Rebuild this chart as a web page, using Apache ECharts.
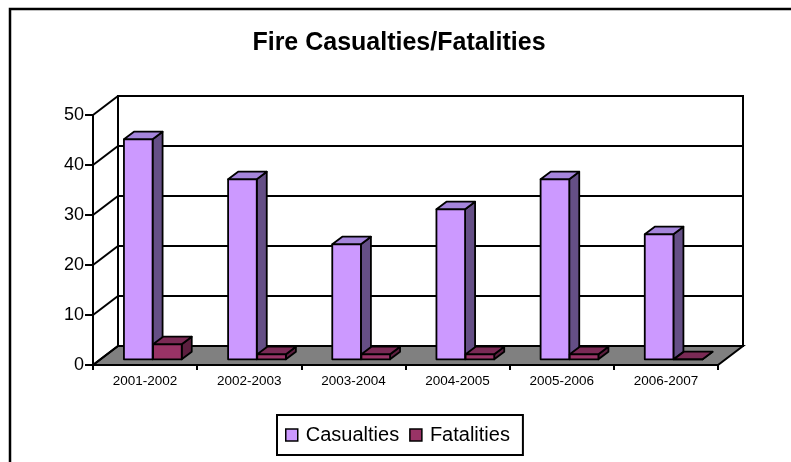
<!DOCTYPE html>
<html><head><meta charset="utf-8">
<script src="https://cdn.jsdelivr.net/npm/echarts@6/dist/echarts.min.js"></script>
<style>html,body{margin:0;padding:0;background:#fff}#c{width:791px;height:462px}</style>
</head><body><div id="c"></div>
<script>
const categories = ['2001-2002','2002-2003','2003-2004','2004-2005','2005-2006','2006-2007'];
const casualties = [44, 36, 23, 30, 36, 25];
const fatalities = [3, 1, 1, 1, 1, 0];
const yTicks = [0, 10, 20, 30, 40, 50];

const DX = 25, DY = -19;
const D0 = 0.3, D1 = 0.7;
const FONT = "'Liberation Sans', Arial, sans-serif";

function barRender(side, colors) {
  return function (params, api) {
    const idx = api.value(0), v = api.value(1);
    const base = api.coord([idx, 0]);
    const top = api.coord([idx, v]);
    const bw = api.size([1, 0])[0];
    const w = bw * 0.275;
    let xl = side === 0 ? base[0] - w : base[0] + 0.5;
    let xr = xl + w;
    const ox = DX * D0, oy = DY * D0;
    const ddx = DX * (D1 - D0), ddy = DY * (D1 - D0);
    const yb = base[1] + oy, yt = top[1] + oy;
    xl += ox; xr += ox;
    const front = [[xl, yb], [xr, yb], [xr, yt], [xl, yt]];
    const sideF = [[xr, yb], [xr + ddx, yb + ddy], [xr + ddx, yt + ddy], [xr, yt]];
    const topF = [[xl, yt], [xr, yt], [xr + ddx, yt + ddy], [xl + ddx, yt + ddy]];
    const st = c => ({ fill: c, stroke: '#000', lineWidth: 1.8, lineJoin: 'round' });
    return { type: 'group', children: [
      { type: 'polygon', shape: { points: sideF }, style: st(colors.side) },
      { type: 'polygon', shape: { points: topF }, style: st(colors.top) },
      { type: 'polygon', shape: { points: front }, style: st(colors.front) }
    ] };
  };
}

function wallRender(params, api) {
  const v = api.value(1);
  const cs = params.coordSys;
  const y = api.coord([0, v])[1];
  const xL = cs.x, xR = cs.x + cs.width;
  const children = [];
  if (params.dataIndex === 0) {
    const yT = api.coord([0, yTicks[yTicks.length - 1]])[1];
    children.push({ type: 'polygon', shape: { points: [[xL + DX, yT + DY], [xR + DX, yT + DY], [xR + DX, y + DY], [xL + DX, y + DY]] },
      style: { fill: '#fff', stroke: '#000', lineWidth: 2 } });
    children.push({ type: 'polygon', shape: { points: [[xL, y], [xR, y], [xR + DX, y + DY], [xL + DX, y + DY]] },
      style: { fill: '#808080', stroke: '#000', lineWidth: 2 } });
  } else {
    children.push({ type: 'line', shape: { x1: xL + DX, y1: y + DY, x2: xR + DX, y2: y + DY }, style: { stroke: '#000', lineWidth: 2 } });
  }
  children.push({ type: 'line', shape: { x1: xL, y1: y, x2: xL + DX, y2: y + DY }, style: { stroke: '#000', lineWidth: 2 } });
  return { type: 'group', children };
}

const chart = echarts.init(document.getElementById('c'), null, { renderer: 'canvas' });
chart.setOption({
  animation: false,
  backgroundColor: '#fff',
  graphic: [
    { type: 'rect', shape: { x: 10, y: 9, width: 900, height: 600 }, style: { fill: 'none', stroke: '#000', lineWidth: 2.5 }, z: 0 },
    { type: 'text', x: 399, y: 43, style: { text: 'Fire Casualties/Fatalities', font: "bold 25px " + FONT, fill: '#000',
      align: 'center', verticalAlign: 'middle', textAlign: 'center', textVerticalAlign: 'middle' } }
  ],
  grid: { left: 93, right: 73, top: 115, bottom: 97, containLabel: false },
  xAxis: {
    type: 'category', data: categories, boundaryGap: true,
    axisLine: { show: true, lineStyle: { color: '#000', width: 2 } },
    axisTick: { show: true, interval: 0, length: 5, alignWithLabel: false, lineStyle: { color: '#000', width: 2 } },
    axisLabel: { interval: 0, margin: 9, color: '#000', fontSize: 13.5, fontFamily: FONT },
    splitLine: { show: false }
  },
  yAxis: {
    type: 'value', min: 0, max: 50, interval: 10,
    axisLine: { show: true, lineStyle: { color: '#000', width: 2 } },
    axisTick: { show: true, length: 8, lineStyle: { color: '#000', width: 2 } },
    axisLabel: { margin: 9, color: '#000', fontSize: 18, fontFamily: FONT },
    splitLine: { show: false }
  },
  legend: {
    left: 277, top: 415, orient: 'horizontal',
    padding: [10, 13, 10, 8], borderColor: '#000', borderWidth: 2, backgroundColor: '#fff',
    itemWidth: 12, itemHeight: 12, itemGap: 10, icon: 'rect',
    itemStyle: { borderColor: '#000', borderWidth: 1.5 },
    textStyle: { fontSize: 20, fontFamily: FONT, color: '#000', padding: [0, 0, 0, 3] },
    data: ['Casualties', 'Fatalities']
  },
  series: [
    { type: 'custom', name: 'wall', silent: true, renderItem: wallRender, data: yTicks.map(v => [0, v]), z: 1 },
    { type: 'custom', name: 'Casualties', itemStyle: { color: '#CC99FF' },
      renderItem: barRender(0, { front: '#CC99FF', side: '#654F86', top: '#A585DB' }),
      data: casualties.map((v, i) => [i, v]), z: 2 },
    { type: 'custom', name: 'Fatalities', itemStyle: { color: '#993366' },
      renderItem: barRender(1, { front: '#993366', side: '#5C1F3F', top: '#7A2A55' }),
      data: fatalities.map((v, i) => [i, v]), z: 3 }
  ]
});
</script></body></html>
